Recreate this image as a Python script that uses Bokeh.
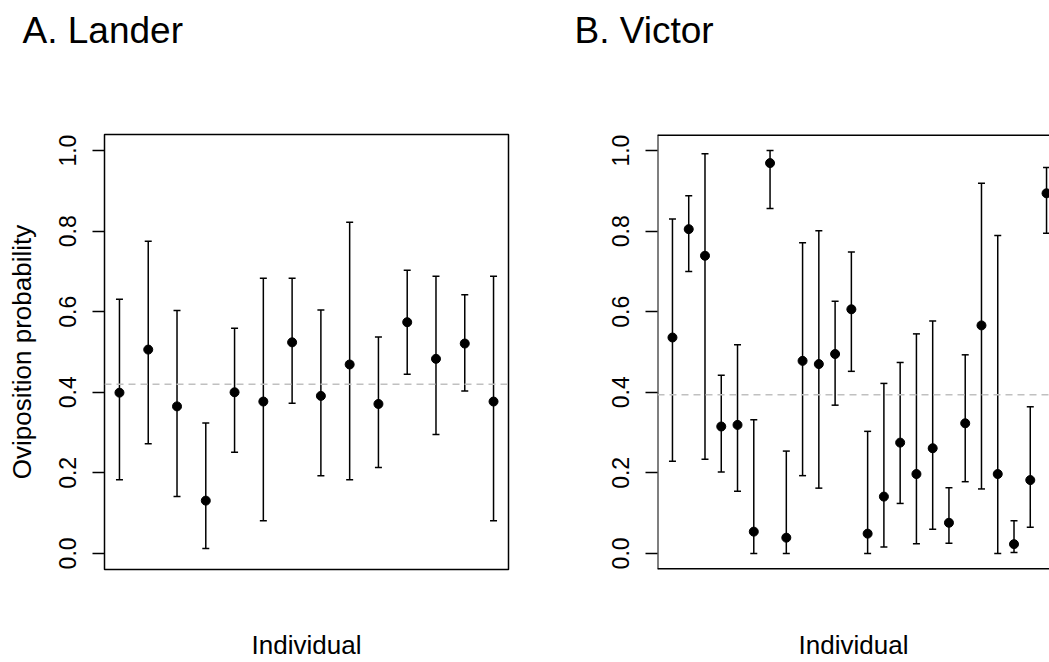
from bokeh.plotting import figure
from bokeh.models import Range1d, FixedTicker, Whisker, TeeHead, ColumnDataSource, Span, Title
from bokeh.layouts import row
from bokeh.embed import file_html
from bokeh.resources import INLINE

# ---------------- data ----------------
lander_est = [0.399, 0.506, 0.365, 0.131, 0.400, 0.377, 0.524, 0.391, 0.469, 0.371, 0.574, 0.483, 0.521, 0.377]
lander_lower = [0.183, 0.272, 0.141, 0.012, 0.251, 0.081, 0.373, 0.193, 0.183, 0.213, 0.445, 0.295, 0.403, 0.081]
lander_upper = [0.631, 0.775, 0.603, 0.324, 0.559, 0.683, 0.683, 0.604, 0.822, 0.537, 0.703, 0.688, 0.642, 0.688]
lander_mean = 0.420

victor_est = [0.536, 0.805, 0.739, 0.315, 0.319, 0.054, 0.969, 0.039, 0.478, 0.470, 0.495, 0.606,
              0.049, 0.141, 0.275, 0.197, 0.261, 0.076, 0.323, 0.566, 0.197, 0.023, 0.182, 0.894]
victor_lower = [0.229, 0.700, 0.234, 0.202, 0.154, 0.000, 0.856, 0.000, 0.193, 0.162, 0.368, 0.452,
                0.000, 0.016, 0.124, 0.024, 0.060, 0.025, 0.178, 0.160, 0.000, 0.002, 0.065, 0.795]
victor_upper = [0.830, 0.888, 0.992, 0.442, 0.518, 0.332, 1.000, 0.254, 0.771, 0.801, 0.626, 0.748,
                0.303, 0.422, 0.474, 0.545, 0.577, 0.163, 0.493, 0.919, 0.789, 0.081, 0.364, 0.958]
victor_mean = 0.394

y_ticks = [0.0, 0.2, 0.4, 0.6, 0.8, 1.0]
y_tick_labels = ["0.0", "0.2", "0.4", "0.6", "0.8", "1.0"]

FONT = "Liberation Sans"


def make_panel(title, est, lower, upper, mean, width, height, mb_left, mb_right,
               x_end_fraction, title_offset, show_ylabel, open_right):
    n = len(est)
    pad = 0.04 * (n - 1)
    x0 = 1 - pad
    x1 = n + pad
    x1 = x0 + (x1 - x0) * x_end_fraction
    p = figure(width=width, height=height, output_backend="svg", toolbar_location=None,
               x_range=Range1d(x0, x1), y_range=Range1d(-0.04, 1.04),
               min_border_left=mb_left, min_border_right=mb_right,
               min_border_top=134, min_border_bottom=90,
               title=title)
    # panel heading (outermost)
    p.title.text_font = FONT
    p.title.text_font_size = "37px"
    p.title.text_font_style = "normal"
    p.title.text_color = "black"
    p.title.align = "left"
    p.title.offset = title_offset
    p.title.standoff = 13
    # blank spacer between heading and frame
    p.add_layout(Title(text=" ", text_font=FONT, text_font_size="37px", standoff=34), "above")
    p.background_fill_color = "white"
    p.border_fill_color = "white"
    p.xgrid.visible = False
    p.ygrid.visible = False

    if open_right:
        p.outline_line_color = None
        for loc in (-0.04, 1.04):
            p.add_layout(Span(location=loc, dimension="width", line_color="black", line_width=3))
        p.add_layout(Span(location=x0, dimension="height", line_color="black", line_width=2))
    else:
        p.outline_line_color = "black"
        p.outline_line_width = 1.5
        p.outline_line_alpha = 1.0

    # y axis
    ya = p.yaxis[0]
    ya.ticker = FixedTicker(ticks=y_ticks, minor_ticks=[])
    ya.major_label_overrides = {t: l for t, l in zip(y_ticks, y_tick_labels)}
    ya.major_label_orientation = "vertical"
    ya.major_label_text_font = FONT
    ya.major_label_text_font_size = "23px"
    ya.major_label_text_color = "black"
    ya.major_tick_out = 12
    ya.major_tick_in = 0
    ya.major_tick_line_color = "black"
    ya.major_tick_line_width = 1.3
    ya.minor_tick_line_color = None
    ya.axis_line_color = None
    ya.major_label_standoff = 16
    if show_ylabel:
        ya.axis_label = "Oviposition probability"
        ya.axis_label_text_font = FONT
        ya.axis_label_text_font_size = "26px"
        ya.axis_label_text_font_style = "normal"
        ya.axis_label_text_color = "black"
        ya.axis_label_standoff = 20

    # x axis
    xa = p.xaxis[0]
    xa.ticker = FixedTicker(ticks=[], minor_ticks=[])
    xa.axis_line_color = None
    xa.major_tick_line_color = None
    xa.minor_tick_line_color = None
    xa.axis_label = "Individual"
    xa.axis_label_text_font = FONT
    xa.axis_label_text_font_size = "26px"
    xa.axis_label_text_font_style = "normal"
    xa.axis_label_text_color = "black"
    xa.axis_label_standoff = 60

    src = ColumnDataSource(dict(x=list(range(1, n + 1)), est=est, lower=lower, upper=upper))

    p.add_layout(Span(location=mean, dimension="width", line_color="#c0c0c0",
                      line_width=1.5, line_dash="7 5"))

    wh = Whisker(source=src, base="x", upper="upper", lower="lower",
                 line_color="black", line_width=1.5,
                 upper_head=TeeHead(size=7, line_color="black", line_width=1.5),
                 lower_head=TeeHead(size=7, line_color="black", line_width=1.5))
    p.add_layout(wh)
    p.scatter("x", "est", source=src, size=9, color="black", marker="circle")
    return p


pA = make_panel("A. Lander", lander_est, lander_lower, lander_upper, lander_mean,
                width=560, height=662, mb_left=104, mb_right=52, x_end_fraction=1.0,
                title_offset=-82, show_ylabel=True, open_right=False)
pB = make_panel("B. Victor", victor_est, victor_lower, victor_upper, victor_mean,
                width=489, height=662, mb_left=97, mb_right=0, x_end_fraction=392 / 404,
                title_offset=-83, show_ylabel=False, open_right=True)

layout = row(pA, pB)
open("out.html", "w").write(file_html(layout, INLINE))
